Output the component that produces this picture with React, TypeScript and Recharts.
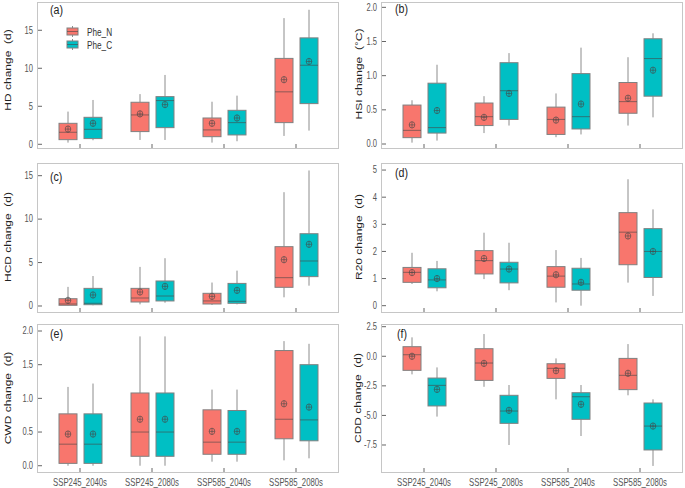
import { ComposedChart, Bar, XAxis, YAxis, Legend } from 'recharts';

const categories = ['SSP245_2040s', 'SSP245_2080s', 'SSP585_2040s', 'SSP585_2080s'];
const seriesNames = ['Phe_N', 'Phe_C'];

// per category: [low whisker, q1, median, q3, high whisker, mean]
const hdN = [
  [0.22, 0.61, 1.58, 2.76, 4.3, 2.0],
  [0.57, 1.67, 3.86, 5.53, 6.6, 4.0],
  [0.22, 1.0, 1.89, 3.46, 5.6, 2.76],
  [1.1, 2.85, 6.9, 11.3, 16.6, 8.5],
];
const hdC = [
  [0.53, 0.75, 1.97, 3.55, 5.83, 2.76],
  [0.57, 2.19, 5.75, 6.27, 9.12, 5.22],
  [0.4, 1.23, 2.85, 4.47, 6.4, 3.46],
  [1.8, 5.35, 10.4, 14.0, 17.7, 10.9],
];
const hsiN = [
  [0.02, 0.093, 0.2, 0.57, 0.64, 0.28],
  [0.16, 0.27, 0.4, 0.6, 0.7, 0.39],
  [0.1, 0.14, 0.36, 0.54, 0.74, 0.35],
  [0.27, 0.45, 0.62, 0.9, 1.27, 0.67],
];
const hsiC = [
  [0.05, 0.16, 0.24, 0.89, 1.16, 0.49],
  [0.27, 0.36, 0.78, 1.19, 1.33, 0.74],
  [0.14, 0.22, 0.4, 1.03, 1.41, 0.585],
  [0.39, 0.7, 1.25, 1.54, 1.62, 1.08],
];
const hcdN = [
  [0.04, 0.08, 0.23, 0.84, 2.2, 0.65],
  [0.19, 0.46, 0.92, 2.03, 4.5, 1.61],
  [0.12, 0.23, 0.58, 1.46, 2.7, 1.11],
  [1.0, 2.15, 3.26, 6.83, 13.1, 5.33],
];
const hcdC = [
  [0.08, 0.15, 0.31, 2.03, 3.45, 1.27],
  [0.38, 0.58, 1.15, 2.88, 5.5, 2.26],
  [0.19, 0.31, 0.54, 2.6, 4.07, 1.8],
  [2.34, 3.38, 5.18, 8.32, 15.6, 7.1],
];
const r20N = [
  [0.8, 0.86, 1.23, 1.41, 1.95, 1.22],
  [0.98, 1.17, 1.66, 2.03, 2.69, 1.74],
  [0.12, 0.68, 1.09, 1.44, 2.05, 1.14],
  [0.85, 1.51, 2.71, 3.43, 4.66, 2.57],
];
const r20C = [
  [0.53, 0.66, 0.95, 1.36, 1.65, 1.0],
  [0.57, 0.84, 1.35, 1.6, 2.32, 1.35],
  [0.0, 0.57, 0.8, 1.38, 1.76, 0.86],
  [0.36, 1.04, 2.0, 2.84, 3.55, 2.0],
];
const cwdN = [
  [0.0, 0.035, 0.32, 0.77, 1.17, 0.47],
  [0.0, 0.14, 0.5, 1.08, 1.92, 0.69],
  [0.06, 0.17, 0.35, 0.83, 1.13, 0.51],
  [0.08, 0.4, 0.69, 1.71, 1.85, 0.92],
];
const cwdC = [
  [0.0, 0.035, 0.32, 0.77, 1.22, 0.47],
  [0.0, 0.14, 0.5, 1.08, 1.92, 0.69],
  [0.06, 0.17, 0.35, 0.82, 1.13, 0.51],
  [0.11, 0.37, 0.68, 1.5, 1.81, 0.87],
];
const cddN = [
  [-1.53, -1.19, 0.13, 0.81, 1.6, 0.0],
  [-2.58, -2.04, -0.57, 0.64, 1.88, -0.6],
  [-3.64, -1.87, -1.02, -0.63, -0.18, -1.22],
  [-3.3, -2.82, -1.61, -0.18, 1.03, -1.44],
];
const cddC = [
  [-5.1, -4.2, -2.46, -1.84, -0.94, -2.8],
  [-7.5, -5.67, -4.63, -3.3, -2.43, -4.57],
  [-6.74, -5.33, -3.42, -3.08, -2.43, -4.06],
  [-9.27, -7.92, -5.9, -3.95, -3.64, -5.9],
];

const ticks15 = [0, 5, 10, 15];
const ticks2 = [0, 0.5, 1, 1.5, 2];
const ticks5 = [0, 1, 2, 3, 4, 5];
const ticksCdd = [-7.5, -5, -2.5, 0, 2.5];

const RED = '#F8766D';
const TEAL = '#00BFC4';
const WHISKER = '#8c8c8c';
const EDGE = '#808080';
const MARK = 'rgba(70,70,70,0.6)';
const FONT = '"Liberation Sans", Arial, sans-serif';

const boxShape = (key: 'n' | 'c') => (props: any) => {
  const { x, y, width, height, payload, fill } = props;
  const s: number[] = payload[key];
  const lo = s[0];
  const hi = s[4];
  const py = (v: number) => y + (height * (hi - v)) / (hi - lo);
  const cx = x + width / 2;
  const q1 = py(s[1]);
  const med = py(s[2]);
  const q3 = py(s[3]);
  const mean = py(s[5]);
  return (
    <g>
      <line x1={cx} x2={cx} y1={y} y2={q3} stroke={WHISKER} />
      <line x1={cx} x2={cx} y1={q1} y2={y + height} stroke={WHISKER} />
      <rect x={x} y={q3} width={width} height={q1 - q3} fill={fill} stroke={EDGE} />
      <line x1={x} x2={x + width} y1={med} y2={med} stroke={MARK} />
      <ellipse cx={cx} cy={mean} rx={2.8} ry={3.2} fill="none" stroke={MARK} />
      <line x1={cx - 2.8} x2={cx + 2.8} y1={mean} y2={mean} stroke={MARK} />
      <line x1={cx} x2={cx} y1={mean - 3.2} y2={mean + 3.2} stroke={MARK} />
    </g>
  );
};

const renderLegend = (props: any) => {
  const items = [...(props.payload || [])].sort(
    (a: any, b: any) => seriesNames.indexOf(a.value) - seriesNames.indexOf(b.value),
  );
  return (
    <div>
      {items.map((p: any) => (
        <div key={p.value} style={{ display: 'flex', alignItems: 'center', height: 13 }}>
          <svg width={13} height={11}>
            <line x1={6.5} x2={6.5} y1={0} y2={11} stroke={WHISKER} />
            <rect x={1} y={2} width={11} height={7} fill={p.color} stroke={EDGE} />
            <line x1={1} x2={12} y1={5.5} y2={5.5} stroke={MARK} />
          </svg>
          <span
            style={{
              marginLeft: 8,
              fontSize: 10.5,
              fontFamily: FONT,
              color: '#333',
              display: 'inline-block',
              transform: 'scaleX(0.78)',
              transformOrigin: 'left center',
            }}
          >
            {p.value}
          </span>
        </div>
      ))}
    </div>
  );
};

type PanelDef = {
  tag: string;
  title: string;
  n: number[][];
  c: number[][];
  domain: [number, number];
  ticks: number[];
  digits: number;
  left: number;
  plotTop: number;
  plotH: number;
  labels: boolean;
  tagX: number;
  tagY: number;
  titleX: number;
  titleY: number;
  legend?: boolean;
};

const panels: PanelDef[] = [
  { tag: '(a)', title: 'HD change  (d)', n: hdN, c: hdC, domain: [-0.62, 18.72], ticks: ticks15, digits: 0, left: 0, plotTop: 2, plotH: 147, labels: false, tagX: 50, tagY: 9.5, titleX: 8, titleY: 70, legend: true },
  { tag: '(b)', title: 'HSI change  (°C)', n: hsiN, c: hsiC, domain: [-0.073, 2.078], ticks: ticks2, digits: 1, left: 344, plotTop: 2, plotH: 147, labels: false, tagX: 395, tagY: 9, titleX: 359, titleY: 74 },
  { tag: '(c)', title: 'HCD change  (d)', n: hcdN, c: hcdC, domain: [-0.806, 16.46], ticks: ticks15, digits: 0, left: 0, plotTop: 163, plotH: 150, labels: false, tagX: 50, tagY: 176.5, titleX: 8, titleY: 237 },
  { tag: '(d)', title: 'R20 change  (d)', n: r20N, c: r20C, domain: [-0.27, 5.26], ticks: ticks5, digits: 0, left: 344, plotTop: 163, plotH: 150, labels: false, tagX: 395, tagY: 172.5, titleX: 359, titleY: 237 },
  { tag: '(e)', title: 'CWD change  (d)', n: cwdN, c: cwdC, domain: [-0.108, 2.104], ticks: ticks2, digits: 1, left: 0, plotTop: 324, plotH: 149, labels: true, tagX: 50, tagY: 334, titleX: 8, titleY: 398 },
  { tag: '(f)', title: 'CDD change  (d)', n: cddN, c: cddC, domain: [-9.867, 2.728], ticks: ticksCdd, digits: 1, left: 344, plotTop: 324, plotH: 149, labels: true, tagX: 397, tagY: 334, titleX: 358, titleY: 398 },
];

const CHART_W = 339;
const Y_W = 37;

function Panel({ p }: { p: PanelDef }) {
  const mt = p.plotTop < 10 ? 2 : 4;
  const xh = p.labels ? 15 : 6;
  const rows = categories.map((cat, i) => ({ cat, n: p.n[i], c: p.c[i] }));

  const xTick = (props: any) => {
    const { x, y, payload } = props;
    return (
      <g>
        <line x1={x} x2={x} y1={y} y2={y - 5} stroke="#666" />
        {p.labels && (
          <text
            transform={`translate(${x},${y + 10}) scale(0.74,1)`}
            textAnchor="middle"
            dominantBaseline="central"
            fontSize={10.5}
            fontFamily={FONT}
            fill="#555"
          >
            {payload.value}
          </text>
        )}
      </g>
    );
  };

  const yTick = (props: any) => {
    const { x, y, payload } = props;
    return (
      <g>
        <line x1={x} x2={x + 5} y1={y} y2={y} stroke="#666" />
        <text
          transform={`translate(${x - 4},${y}) scale(0.76,1)`}
          textAnchor="end"
          dominantBaseline="central"
          fontSize={10}
          fontFamily={FONT}
          fill="#555"
        >
          {Number(payload.value).toFixed(p.digits)}
        </text>
      </g>
    );
  };

  return (
    <>
      <div style={{ position: 'absolute', left: p.left, top: p.plotTop - mt }}>
        <ComposedChart
          width={CHART_W}
          height={mt + p.plotH + xh}
          data={rows}
          margin={{ top: mt, right: 0, bottom: 0, left: 0 }}
          barGap={7}
        >
          <XAxis
            dataKey="cat"
            type="category"
            padding={{ left: 7, right: 7 }}
            interval={0}
            height={xh}
            tickSize={0}
            tickMargin={0}
            axisLine={false}
            tickLine={false}
            tick={xTick}
          />
          <YAxis
            type="number"
            domain={p.domain}
            ticks={p.ticks}
            allowDataOverflow
            interval={0}
            width={Y_W}
            tickSize={0}
            tickMargin={0}
            axisLine={false}
            tickLine={false}
            tick={yTick}
          />
          {p.legend && (
            <Legend
              layout="vertical"
              align="center"
              verticalAlign="middle"
              content={renderLegend}
              wrapperStyle={{ top: 25, left: 66, width: 'auto', height: 'auto' }}
            />
          )}
          <Bar
            name="Phe_N"
            dataKey={(d: any) => [d.n[0], d.n[4]]}
            fill={RED}
            barSize={18}
            shape={boxShape('n')}
            isAnimationActive={false}
          />
          <Bar
            name="Phe_C"
            dataKey={(d: any) => [d.c[0], d.c[4]]}
            fill={TEAL}
            barSize={18}
            shape={boxShape('c')}
            isAnimationActive={false}
          />
        </ComposedChart>
      </div>
      <div
        style={{
          position: 'absolute',
          left: p.left + Y_W,
          top: p.plotTop,
          width: CHART_W - Y_W,
          height: p.plotH,
          border: '1px solid #c6c6c6',
          boxSizing: 'border-box',
          pointerEvents: 'none',
        }}
      />
      <div
        style={{
          position: 'absolute',
          left: p.tagX,
          top: p.tagY,
          transform: 'translateY(-50%) scaleX(0.85)',
          transformOrigin: 'left center',
          fontSize: 12.5,
          fontFamily: FONT,
          color: '#222',
          lineHeight: 1,
        }}
      >
        {p.tag}
      </div>
      <div
        style={{
          position: 'absolute',
          left: p.titleX,
          top: p.titleY,
          transform: 'translate(-50%, -50%) rotate(-90deg) scaleY(0.8)',
          fontSize: 12,
          fontFamily: FONT,
          color: '#222',
          whiteSpace: 'pre',
          lineHeight: 1,
        }}
      >
        {p.title}
      </div>
    </>
  );
}

export default function App() {
  return (
    <div style={{ position: 'absolute', left: 0, top: 0, width: 685, height: 488, background: '#fff', overflow: 'hidden' }}>
      {panels.map((p) => (
        <Panel key={p.tag} p={p} />
      ))}
    </div>
  );
}
